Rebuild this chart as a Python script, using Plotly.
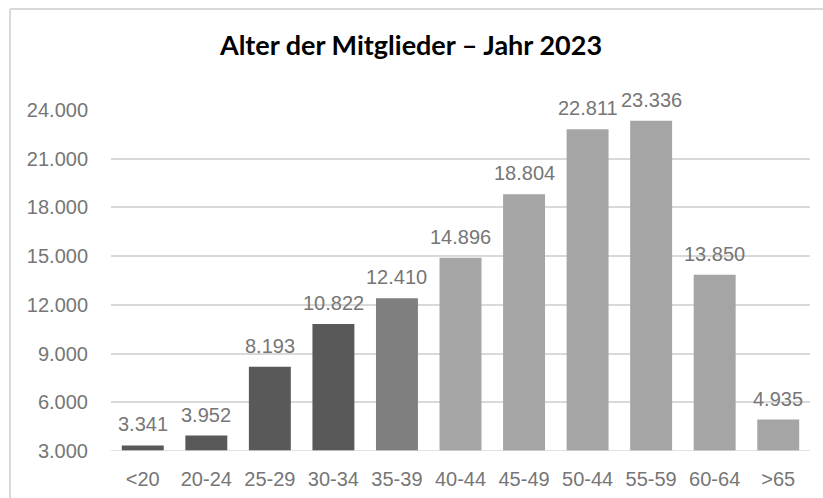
import plotly.graph_objects as go

categories = ["<20", "20-24", "25-29", "30-34", "35-39", "40-44", "45-49", "50-44", "55-59", "60-64", ">65"]
values = [3341, 3952, 8193, 10822, 12410, 14896, 18804, 22811, 23336, 13850, 4935]
bar_colors = ["#595959", "#595959", "#595959", "#595959", "#7f7f7f",
              "#a5a5a5", "#a5a5a5", "#a5a5a5", "#a5a5a5", "#a5a5a5", "#a5a5a5"]
tick_vals = [3000, 6000, 9000, 12000, 15000, 18000, 21000, 24000]
tick_text = ["3.000", "6.000", "9.000", "12.000", "15.000", "18.000", "21.000", "24.000"]
label_text = [f"{v:,}".replace(",", ".") for v in values]

GRAY = "#767676"
FONT = "Liberation Sans, Arial"

W, H = 823, 498
ML, MR, MT, MB = 111, 13, 110, 47
PW, PH = W - ML - MR, H - MT - MB

fig = go.Figure(go.Bar(
    x=categories, y=values, marker_color=bar_colors, marker_line_width=0,
    hoverinfo="x+y",
))

annotations = [
    dict(x=c, y=v, xref="x", yref="y", text=t, showarrow=False,
         yanchor="bottom", xanchor="center", yshift=8,
         font=dict(family=FONT, size=20, color=GRAY))
    for c, v, t in zip(categories, values, label_text)
]

FX0 = (10 - ML) / PW          # frame left edge (paper x)
FY1 = 1 + (MT - 9) / PH       # frame top edge (paper y)

fig.update_layout(
    width=W, height=H,
    margin=dict(l=ML, r=MR, t=MT, b=MB, autoexpand=False),
    paper_bgcolor="white", plot_bgcolor="white",
    bargap=0.34,
    showlegend=False,
    annotations=annotations,
    title=dict(text="<b>Alter der Mitglieder – Jahr 2023</b>", x=411 / W, xanchor="center",
               xref="container", yref="container",
               y=1 - 46 / H, yanchor="middle",
               font=dict(family="Lato, Open Sans", size=27, color="#000000")),
    xaxis=dict(showgrid=False, showline=False, ticks="", ticklabelstandoff=14,
               tickfont=dict(family=FONT, size=20, color=GRAY)),
    yaxis=dict(range=[3000, 24000], tickvals=tick_vals, ticktext=tick_text,
               showgrid=True, gridcolor="#d9d9d9", gridwidth=1.5, zeroline=False,
               showline=False, ticks="", ticklabelstandoff=22,
               tickfont=dict(family=FONT, size=20, color=GRAY)),
    shapes=[dict(type="line", xref="paper", yref="paper",
                 x0=FX0, x1=1.05, y0=FY1, y1=FY1,
                 line=dict(color="#d9d9d9", width=2), layer="below"),
            dict(type="line", xref="paper", yref="paper",
                 x0=FX0, x1=FX0, y0=-0.2, y1=FY1,
                 line=dict(color="#d9d9d9", width=2), layer="below"),
            dict(type="line", xref="paper", yref="y", x0=0, x1=1, y0=3000, y1=3000,
                 line=dict(color="#d9d9d9", width=1.5), layer="above")],
)

fig.write_html("out.html",
               config={"displayModeBar": False},
               post_script="document.body.style.margin='0';document.body.style.overflow='hidden';")
